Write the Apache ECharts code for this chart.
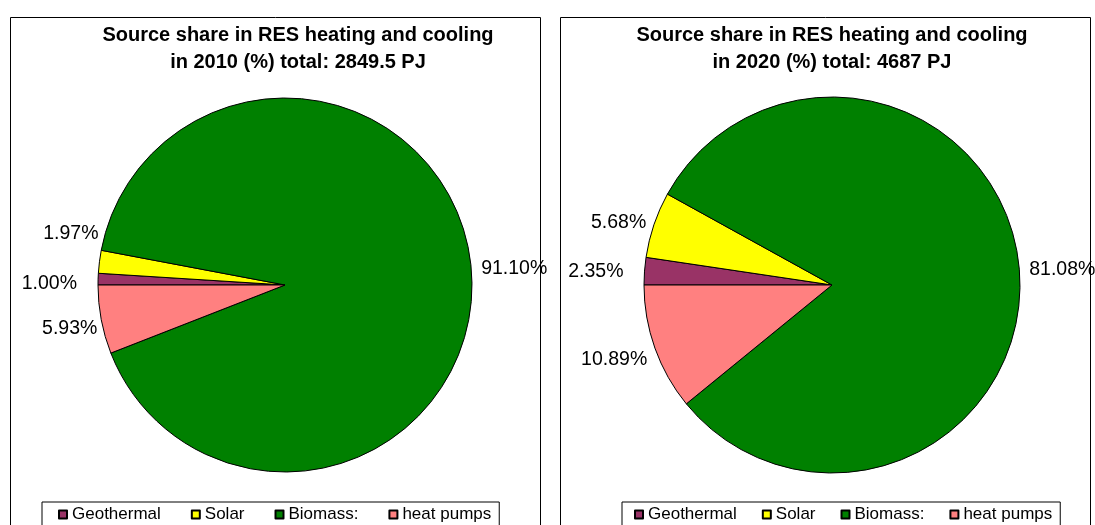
<!DOCTYPE html>
<html>
<head>
<meta charset="utf-8">
<title>Source share in RES heating and cooling</title>
<script src="https://cdn.jsdelivr.net/npm/echarts@6/dist/echarts.min.js"></script>
<style>
  html, body { margin: 0; padding: 0; background: #fff; }
  #chart { width: 1095px; height: 525px; }
</style>
</head>
<body>
<div id="chart"></div>
<script>
// Renewable heating & cooling: share of each source (%)
const sources = ['Geothermal', 'Solar', 'Biomass:', 'heat pumps'];
const share2010 = [1.00, 1.97, 91.10, 5.93];
const share2020 = [2.35, 5.68, 81.08, 10.89];
const years = ['2010', '2020'];
const totals = ['2849.5 PJ', '4687 PJ'];

const colors = ['#993366', '#FFFF00', '#008000', '#FF8080'];
const FONT = 'Arial, "Liberation Sans", sans-serif';

// Small per-label nudges [dx, dy] on top of the automatic outside placement
const labelNudge = [
  [[-11, 1], [9, -27], [-5, 2], [6, 8]],
  [[-6, 1], [7, 0], [-5, 2], [7, 10]]
];

const chart = echarts.init(document.getElementById('chart'), null, { renderer: 'canvas' });

function titleText(i) {
  return 'Source share in RES heating and cooling\nin ' + years[i] + ' (%) total: ' + totals[i];
}

function pieSeries(values, center, radius) {
  return {
    type: 'pie',
    center: center,
    radius: radius,
    startAngle: 180,
    clockwise: true,
    animation: false,
    avoidLabelOverlap: true,
    data: sources.map((name, k) => ({ name: name, value: values[k] })),
    itemStyle: { borderColor: '#000', borderWidth: 1 },
    label: {
      show: true,
      position: 'outside',
      overflow: 'none',
      formatter: p => p.value.toFixed(2) + '%',
      color: '#000',
      fontFamily: FONT,
      fontSize: 19.5
    },
    labelLine: { show: false, length: 6, length2: 4 },
    labelLayout: p => {
      const n = labelNudge[p.seriesIndex][p.dataIndex];
      return { dx: n[0], dy: n[1] };
    },
    emphasis: { disabled: true }
  };
}

function legend(left, gap, padding) {
  return {
    left: left,
    top: 502,
    orient: 'horizontal',
    data: sources,
    icon: 'rect',
    itemWidth: 8,
    itemHeight: 8,
    itemGap: gap,
    padding: padding,
    borderColor: '#000',
    borderWidth: 1,
    backgroundColor: '#fff',
    selectedMode: false,
    textStyle: { color: '#000', fontFamily: FONT, fontSize: 17 }
  };
}

chart.setOption({
  animation: false,
  color: colors,
  title: [
    {
      text: titleText(0), left: 298, top: 22, textAlign: 'center', padding: 0,
      textStyle: { fontFamily: FONT, fontSize: 20, fontWeight: 'bold', color: '#000', lineHeight: 27 }
    },
    {
      text: titleText(1), left: 832, top: 22, textAlign: 'center', padding: 0,
      textStyle: { fontFamily: FONT, fontSize: 20, fontWeight: 'bold', color: '#000', lineHeight: 27 }
    }
  ],
  legend: [legend(42, 30, [4, 8, 30, 16]), legend(622, 25, [4, 8, 30, 12])],
  series: [
    pieSeries(share2010, [285, 285], 187),
    pieSeries(share2020, [832, 285], 188)
  ],
  graphic: [
    {
      type: 'rect', z: 100, silent: true,
      shape: { x: 10.5, y: 17.5, width: 530, height: 540 },
      style: { fill: null, stroke: '#000', lineWidth: 1 }
    },
    {
      type: 'rect', z: 100, silent: true,
      shape: { x: 560.5, y: 17.5, width: 530, height: 540 },
      style: { fill: null, stroke: '#000', lineWidth: 1 }
    }
  ]
});
</script>
</body>
</html>
